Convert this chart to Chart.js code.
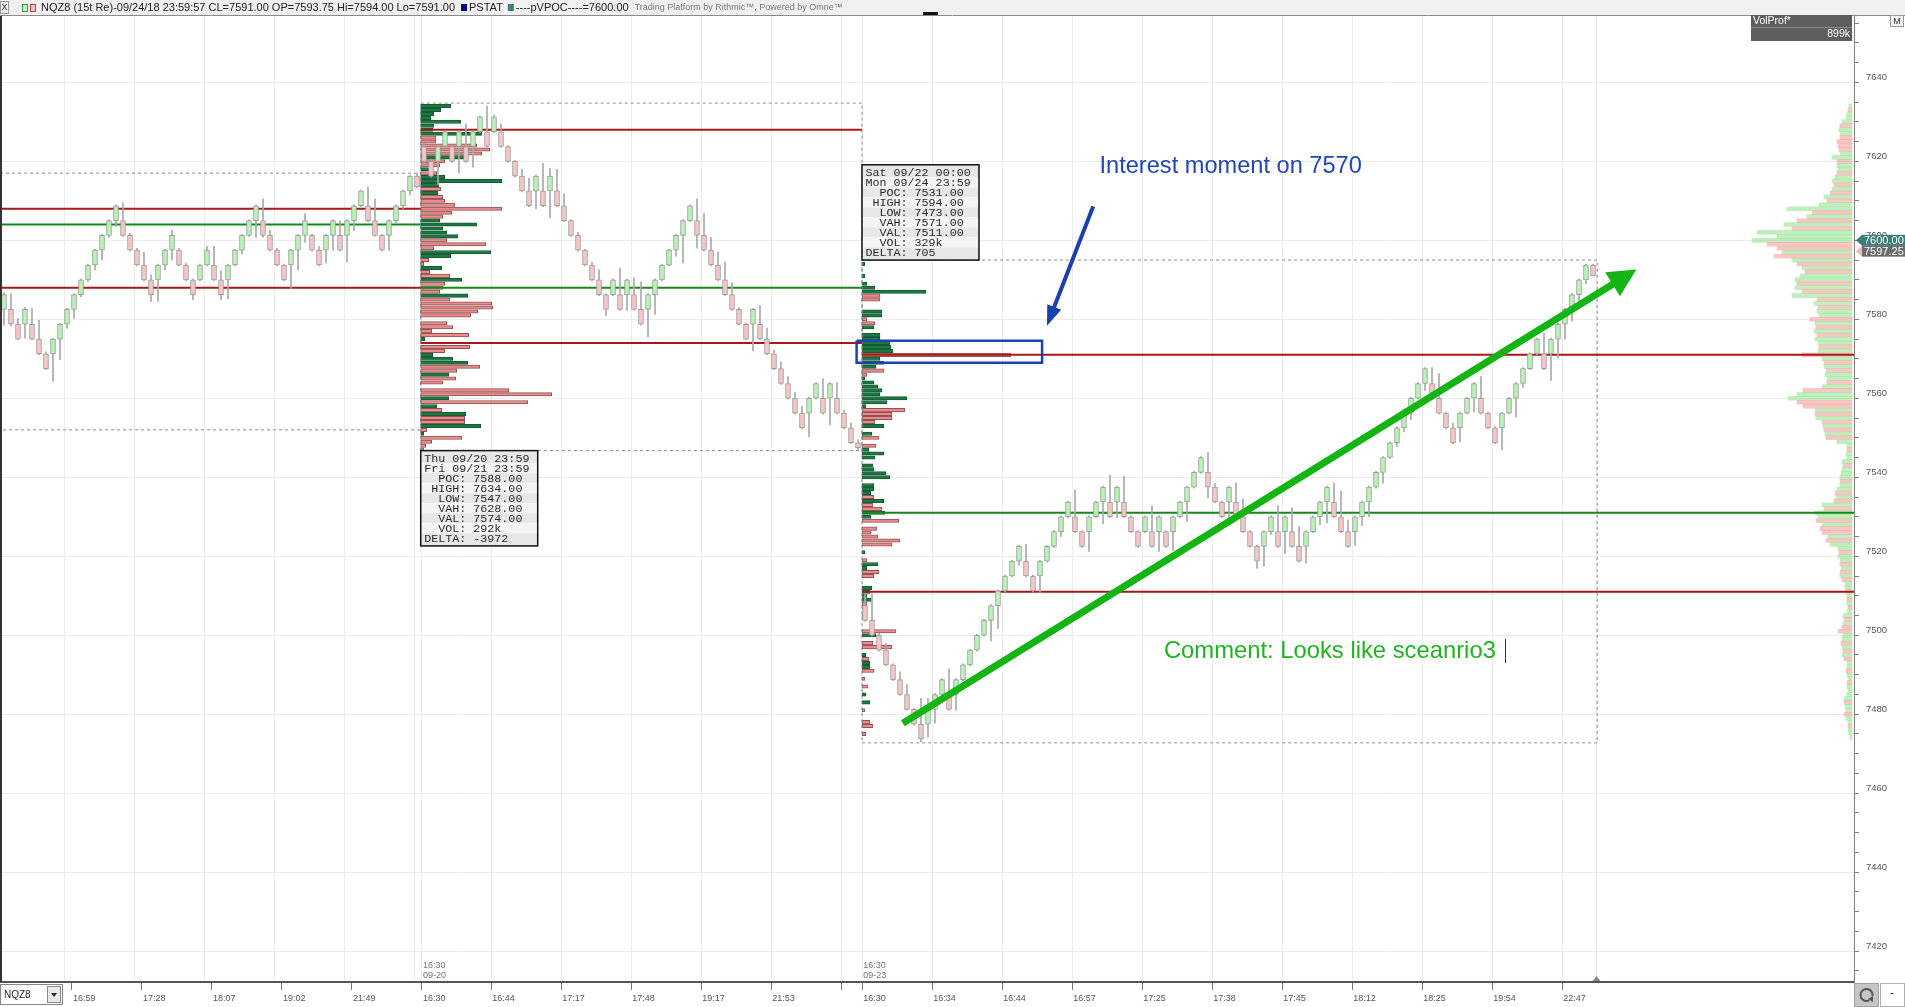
<!DOCTYPE html>
<html>
<head>
<meta charset="utf-8">
<script src="https://cdn.jsdelivr.net/npm/chart.js@4.4.1/dist/chart.umd.min.js"></script>
<style>
  html, body { margin: 0; padding: 0; background: #fff; overflow: hidden; }
  canvas { display: block; }
</style>
</head>
<body>
<canvas id="chart" width="1905" height="1007"></canvas>
<script>
// NQZ8 15 tick renko chart: three sessions, value area lines, session volume profiles

// ---------- candles, one brick per entry (prev session | Thu-Fri | Sun-Mon) ----------
const opens = [
  7582.5, 7582.5, 7578.75, 7578.75, 7578.75, 7575, 7571.25, 7571.25, 7575, 7578.75,
  7582.5, 7586.25, 7590, 7593.75, 7597.5, 7601.25, 7605, 7605, 7601.25, 7597.5,
  7593.75, 7590, 7590, 7593.75, 7597.5, 7597.5, 7593.75, 7590, 7590, 7593.75,
  7593.75, 7590, 7590, 7593.75, 7597.5, 7601.25, 7605, 7605, 7601.25, 7597.5,
  7593.75, 7593.75, 7597.5, 7601.25, 7601.25, 7597.5, 7597.5, 7601.25, 7601.25, 7601.25,
  7605, 7608.75, 7608.75, 7605, 7601.25, 7601.25, 7605, 7608.75, 7612.5, 7616.25,
  // Thu 09/20 - Fri 09/21
  7623.75, 7620, 7620, 7623.75, 7623.75, 7623.75, 7623.75, 7623.75, 7627.5, 7627.5,
  7627.5, 7627.5, 7623.75, 7620, 7616.25, 7612.5, 7612.5, 7612.5, 7612.5, 7612.5,
  7608.75, 7605, 7601.25, 7597.5, 7593.75, 7590, 7586.25, 7586.25, 7586.25, 7586.25,
  7586.25, 7582.5, 7582.5, 7586.25, 7590, 7593.75, 7597.5, 7601.25, 7605, 7605,
  7601.25, 7597.5, 7593.75, 7590, 7586.25, 7582.5, 7578.75, 7578.75, 7578.75, 7575,
  7571.25, 7567.5, 7563.75, 7560, 7556.25, 7556.25, 7560, 7560, 7560, 7560,
  7556.25, 7552.5, 7548.75,
  // Sun 09/23 - Mon 09/24
  7507.5, 7503.75, 7500, 7496.25, 7492.5, 7488.75, 7485, 7481.25, 7477.5, 7477.5,
  7481.25, 7485, 7485, 7485, 7488.75, 7492.5, 7496.25, 7500, 7503.75, 7507.5,
  7511.25, 7515, 7518.75, 7518.75, 7515, 7515, 7518.75, 7522.5, 7526.25, 7530,
  7530, 7526.25, 7526.25, 7530, 7533.75, 7533.75, 7533.75, 7533.75, 7530, 7526.25,
  7526.25, 7526.25, 7526.25, 7526.25, 7526.25, 7530, 7533.75, 7537.5, 7541.25, 7541.25,
  7537.5, 7533.75, 7533.75, 7533.75, 7530, 7526.25, 7522.5, 7522.5, 7526.25, 7526.25,
  7526.25, 7526.25, 7522.5, 7522.5, 7526.25, 7530, 7533.75, 7533.75, 7530, 7526.25,
  7526.25, 7530, 7533.75, 7537.5, 7541.25, 7545, 7548.75, 7552.5, 7556.25, 7560,
  7563.75, 7563.75, 7560, 7556.25, 7552.5, 7552.5, 7556.25, 7560, 7560, 7556.25,
  7552.5, 7552.5, 7556.25, 7560, 7563.75, 7567.5, 7571.25, 7571.25, 7571.25, 7575,
  7578.75, 7582.5, 7586.25, 7590, 7593.75
];
const closes = [
  7586.25, 7578.75, 7575, 7582.5, 7575, 7571.25, 7567.5, 7575, 7578.75, 7582.5,
  7586.25, 7590, 7593.75, 7597.5, 7601.25, 7605, 7608.75, 7601.25, 7597.5, 7593.75,
  7590, 7586.25, 7593.75, 7597.5, 7601.25, 7593.75, 7590, 7586.25, 7593.75, 7597.5,
  7590, 7586.25, 7593.75, 7597.5, 7601.25, 7605, 7608.75, 7601.25, 7597.5, 7593.75,
  7590, 7597.5, 7601.25, 7605, 7597.5, 7593.75, 7601.25, 7605, 7597.5, 7605,
  7608.75, 7612.5, 7605, 7601.25, 7597.5, 7605, 7608.75, 7612.5, 7616.25, 7613.5,
  7620, 7616.25, 7623.75, 7627.5, 7620, 7627.5, 7620, 7627.5, 7631.25, 7623.75,
  7631.25, 7623.75, 7620, 7616.25, 7612.5, 7608.75, 7616.25, 7608.75, 7616.25, 7608.75,
  7605, 7601.25, 7597.5, 7593.75, 7590, 7586.25, 7582.5, 7590, 7582.5, 7590,
  7582.5, 7578.75, 7586.25, 7590, 7593.75, 7597.5, 7601.25, 7605, 7608.75, 7601.25,
  7597.5, 7593.75, 7590, 7586.25, 7582.5, 7578.75, 7575, 7582.5, 7575, 7571.25,
  7567.5, 7563.75, 7560, 7556.25, 7552.5, 7560, 7563.75, 7556.25, 7563.75, 7556.25,
  7552.5, 7548.75, 7547.5,
  7503.75, 7500, 7496.25, 7492.5, 7488.75, 7485, 7481.25, 7477.5, 7473.75, 7481.25,
  7485, 7488.75, 7481.25, 7488.75, 7492.5, 7496.25, 7500, 7503.75, 7507.5, 7511.25,
  7515, 7518.75, 7522.5, 7515, 7511.25, 7518.75, 7522.5, 7526.25, 7530, 7533.75,
  7526.25, 7522.5, 7530, 7533.75, 7537.5, 7530, 7537.5, 7530, 7526.25, 7522.5,
  7530, 7522.5, 7530, 7522.5, 7530, 7533.75, 7537.5, 7541.25, 7545, 7537.5,
  7533.75, 7530, 7537.5, 7530, 7526.25, 7522.5, 7518.75, 7526.25, 7530, 7522.5,
  7530, 7522.5, 7518.75, 7526.25, 7530, 7533.75, 7537.5, 7530, 7526.25, 7522.5,
  7530, 7533.75, 7537.5, 7541.25, 7545, 7548.75, 7552.5, 7556.25, 7560, 7563.75,
  7567.5, 7560, 7556.25, 7552.5, 7548.75, 7556.25, 7560, 7563.75, 7556.25, 7552.5,
  7548.75, 7556.25, 7560, 7563.75, 7567.5, 7571.25, 7575, 7567.5, 7575, 7578.75,
  7582.5, 7586.25, 7590, 7593.75, 7591
];
const highs = [
  7586.75, 7586.5, 7580.25, 7583, 7582.75, 7579.75, 7571.75, 7575.25, 7579, 7582.75,
  7586.5, 7590.25, 7594, 7597.75, 7601.5, 7605.25, 7609, 7609.5, 7601.75, 7598,
  7597, 7591.25, 7594, 7597.75, 7602.5, 7598, 7594.25, 7590.25, 7594, 7598.5,
  7598.5, 7592.25, 7594, 7597.75, 7601.5, 7605.25, 7609, 7610.5, 7602.5, 7598,
  7594, 7597.75, 7601.5, 7606.75, 7601.5, 7598.5, 7601.5, 7605.25, 7605, 7605.25,
  7609, 7612.75, 7613.5, 7610.5, 7601.5, 7605.25, 7609, 7612.75, 7616.5, 7617,
  7624.5, 7620.5, 7624, 7627.75, 7624, 7627.75, 7629.5, 7627.75, 7631.5, 7634,
  7631.75, 7629.5, 7624, 7620.25, 7618, 7615.75, 7616.5, 7619.5, 7618.25, 7618,
  7611.75, 7605.25, 7602, 7597.75, 7594.5, 7592.5, 7586.5, 7590.25, 7593, 7590.25,
  7590.5, 7589.5, 7586.5, 7590.25, 7594, 7597.75, 7601.5, 7605.25, 7609, 7610.5,
  7606.75, 7600.75, 7597, 7594.5, 7589.25, 7583, 7579, 7582.75, 7583.5, 7577.75,
  7572.25, 7569.25, 7565.5, 7561.5, 7558, 7560.25, 7564, 7565, 7564, 7564,
  7557, 7553.75, 7549.5,
  7510.5, 7510.5, 7500.5, 7498, 7492.75, 7490.75, 7487.5, 7481.5, 7484, 7484,
  7485.25, 7489, 7491.5, 7489, 7492.75, 7496.5, 7500.25, 7504, 7507.75, 7511.5,
  7515.25, 7519, 7522.75, 7523, 7515.25, 7519, 7522.75, 7526.5, 7530.25, 7534,
  7536.75, 7526.5, 7530.25, 7534, 7537.75, 7540.5, 7537.75, 7540.25, 7530.25, 7526.5,
  7530.25, 7532.75, 7530.25, 7526.5, 7530.25, 7534, 7537.75, 7541.5, 7545.25, 7546.25,
  7538.5, 7534, 7537.75, 7538.5, 7534.5, 7526.5, 7522.75, 7526.5, 7530.25, 7532.75,
  7530.25, 7532.25, 7527.5, 7526.5, 7530.25, 7534, 7537.75, 7538.5, 7536.5, 7529.25,
  7530.25, 7534, 7537.75, 7541.5, 7545.25, 7549, 7552.75, 7556.5, 7560.25, 7564,
  7567.75, 7567.75, 7566.25, 7556.5, 7553.75, 7556.5, 7560.25, 7564, 7565.5, 7556.5,
  7552.75, 7556.5, 7560.25, 7564, 7567.75, 7571.5, 7575.25, 7576.5, 7575.25, 7579,
  7582.75, 7586.5, 7590.25, 7594, 7594
];
const lows = [
  7578.5, 7578.25, 7574.75, 7575.25, 7574.75, 7571, 7567.25, 7564.25, 7569.75, 7577.75,
  7580.25, 7585.75, 7589.5, 7592.5, 7595, 7600.75, 7603.5, 7601, 7597.25, 7593.5,
  7589.75, 7584.5, 7584.5, 7592.5, 7595, 7593.5, 7589.75, 7585, 7589.75, 7593.5,
  7589.75, 7585, 7585.25, 7593.5, 7596.5, 7601, 7600.75, 7600.75, 7597.25, 7593.5,
  7589.75, 7587.75, 7592.5, 7599.5, 7597.25, 7593.5, 7594.25, 7597.5, 7597.25, 7594.5,
  7602.5, 7608.5, 7604.75, 7601, 7597.25, 7597.5, 7604.5, 7608, 7611.5, 7613.25,
  7619.75, 7616, 7614, 7623.5, 7619.75, 7617, 7619.75, 7618.5, 7627.25, 7623.5,
  7627.25, 7623.5, 7619.75, 7616, 7612.25, 7608.5, 7608, 7608.5, 7605.75, 7608.5,
  7604.75, 7601, 7597.25, 7593.5, 7589.75, 7586, 7581, 7586, 7582.25, 7582.25,
  7582.25, 7578.5, 7575.5, 7581.25, 7589.75, 7593.5, 7596, 7594.25, 7604.75, 7598,
  7597.25, 7593.5, 7589.75, 7586, 7582.25, 7578.5, 7574.75, 7572, 7574.75, 7571,
  7567.25, 7563.5, 7559.75, 7556, 7552.25, 7550.25, 7559.75, 7556, 7553.25, 7556,
  7552.25, 7548.5, 7547,
  7503.5, 7499.75, 7496, 7492.25, 7488.5, 7484.75, 7481, 7477.25, 7473, 7474.25,
  7477.75, 7484.75, 7481, 7481, 7488.5, 7492.25, 7496, 7499.75, 7498.5, 7501.75,
  7511, 7514.75, 7517.75, 7514.75, 7511, 7510.75, 7518.5, 7522.25, 7525, 7529.75,
  7526, 7522.25, 7521.25, 7529.75, 7528.25, 7529.75, 7529.75, 7529.75, 7526, 7522.25,
  7526, 7522.25, 7521.25, 7522.25, 7521.5, 7529.75, 7528.75, 7537.25, 7541, 7534.75,
  7533.5, 7529.75, 7529.75, 7529.75, 7526, 7522.25, 7517, 7517.5, 7525.5, 7522.25,
  7520.75, 7522.25, 7518.5, 7518.25, 7526, 7528, 7528.5, 7529.75, 7526, 7522.25,
  7522.75, 7527.75, 7530, 7537.25, 7538.5, 7544.75, 7547.75, 7551.5, 7554.5, 7559.75,
  7562, 7559.75, 7556, 7552.25, 7548.5, 7549, 7556, 7556.5, 7556, 7552.25,
  7548.5, 7547, 7556, 7555.25, 7562.75, 7567.25, 7571, 7567.25, 7564.5, 7570.25,
  7575, 7579.5, 7584, 7589, 7591
];

// ---------- session volume profiles, one value per point from the top level down (+ buy / - sell) ----------
const midProfileTop = 7634;
const midProfile = [
  30, 20, 13, 10, 40, 13, 12, 61, -15, -15,
  -56, -69, -61, 44, -24, -19, 8, -16, 24, 81,
  18, -20, 17, -22, -24, -34, -81, -31, -22, 19,
  56, 22, 26, 37, -26, -65, -13, 70, 30, -8,
  -3, 21, -9, -29, 41, -24, -22, -19, 47, -29,
  -71, -72, -57, -50, 0, -26, -32, -11, -48, 4,
  0, -49, -24, 12, 32, 47, -59, -36, 28, -35,
  -22, 0, -88, -131, 28, -107, 16, -21, 45, -44,
  -44, 60, -6, 3, -41, -11, -5, -3
];
const lastProfileTop = 7594;
const lastProfile = [
  3, 0, 0, 3, 0, 5, 13, 64, -18, -18,
  0, 0, 20, 20, -5, -13, 12, 0, 18, 18,
  28, 29, 31, -149, 18, 22, 14, -22, -5, 3,
  12, 16, 20, 18, 45, 25, 4, -43, -30, -30,
  -13, 22, 0, 10, -17, 0, -14, 7, 22, 13,
  0, 11, 12, 24, 28, 0, 12, 12, 9, -12,
  22, -11, -20, 23, 9, -37, 0, -15, -9, -16,
  -38, -30, 0, 3, 0, -5, 16, 5, -17, -12,
  0, 0, 10, 8, 5, 9, -5, -4, 0, -4,
  0, 0, 0, -34, 14, 0, -11, -30, 0, 4,
  -7, 8, 8, -12, 0, -3, 0, -6, 0, 4,
  0, 8, 0, -3, 0, 0, -8, -11, 0, -4,
  0, 0
];
// composite VolProf* along the price axis
const compProfileTop = 7634;
const compProfile = [
  3, -4, 5, 6, 10, -12, 13, 12, -12, -15,
  -14, -13, 12, 20, -15, 15, 14, -15, 17, 20,
  -18, 20, -22, 28, -25, 33, 65, -40, 45, -55,
  68, -60, 95, 75, 100, -85, -75, 70, -78, 60,
  -55, 50, -47, 52, 57, -55, 57, -50, 60, -35,
  38, -34, 35, 33, -42, 37, -36, 38, -35, 37,
  34, -33, 34, -50, 30, -28, 28, -26, 27, 25,
  -25, 30, -49, 55, 64, -55, -49, 37, -37, 36,
  -30, 29, -28, 27, -26, 15, 5, -5, 6, 5,
  10, -9, 10, 11, 12, -12, 12, 15, -17, 16,
  -18, 30, -28, 37, 34, -36, 30, -32, -30, 24,
  -26, 22, 14, -13, 14, 12, -12, 11, -12, 12,
  -10, 7, 7, -6, 5, -5, 5, -4, 5, 9,
  -8, 9, -10, -14, 9, 10, -11, 10, -9, 10,
  -8, 5, 5, -6, 5, 4, -5, 5, 4, 5,
  8, -8, 7, 6, -8, 6, 4, -4, 4, 3,
  2
];

// ---------- sessions (prev, Thu-Fri, Sun-Mon) on the bar index axis ----------
const sessionStart = [-0.57, 59.53, 122.57];
const sessionBoxEnd = [59.53, 122.57, 227.6];
const sessionLineEnd = [59.53, 122.57, 264.29];
const boxHigh = [7617, 7634.75, 7595];
const boxLow = [7552, 7546.75, 7472.75];
const vahLevels = [7608, 7628, 7571];
const pocLevels = [7604, 7588, 7531];
const valLevels = [7588, 7574, 7511];

const midStats = ['Thu 09/20 23:59', 'Fri 09/21 23:59', '  POC: 7588.00', ' HIGH: 7634.00', '  LOW: 7547.00',
  '  VAH: 7628.00', '  VAL: 7574.00', '  VOL: 292k', 'DELTA: -3972'];
const lastStats = ['Sat 09/22 00:00', 'Mon 09/24 23:59', '  POC: 7531.00', ' HIGH: 7594.00', '  LOW: 7473.00',
  '  VAH: 7571.00', '  VAL: 7511.00', '  VOL: 329k', 'DELTA: 705'];

// ---------- axes ----------
const tickPos = [9.7, 19.7, 29.7, 39.7, 49.7, 59.7, 69.6, 79.6, 89.6, 99.6, 109.6, 119.6,
  122.6, 132.6, 142.6, 152.6, 162.6, 172.6, 182.6, 192.6, 202.6, 212.6, 222.6];
const tickLabels = ['16:59', '17:28', '18:07', '19:02', '21:49', '16:30', '16:44', '17:17', '17:48', '19:17', '21:53', '',
  '16:30', '16:34', '16:44', '16:57', '17:25', '17:38', '17:45', '18:12', '18:25', '19:54', '22:47'];
const gridPos = [8.6, 18.6, 28.6, 38.6, 48.6, 58.6, 59.6, 69.6, 79.6, 89.6, 99.6, 109.6, 119.6,
  122.6, 132.6, 142.6, 152.6, 162.6, 172.6, 182.6, 192.6, 202.6, 212.6, 222.6, 227.5];
const priceLabels = [7420, 7440, 7460, 7480, 7500, 7520, 7540, 7560, 7580, 7600, 7620, 7640];
const sessionMarks = [[59.7, '16:30', '09-20'], [122.6, '16:30', '09-23']];

// ---------- drawings ----------
const noteRect = { from: 121.8, to: 148.3, low: 7569, high: 7574.6 };
const blueArrow = { from: [155.6, 7608.6], to: [149.0, 7578.4] };
const greenArrow = { from: [128.4, 7477.7], to: [233.2, 7592.6] };
const interestNote = { at: [156.5, 7618.7], text: 'Interest moment on 7570' };
const commentNote = { at: [165.7, 7496.0], text: 'Comment: Looks like sceanrio3' };

const SANS = "'Liberation Sans', Arial, sans-serif";
const MONO = "'Liberation Mono', 'Courier New', monospace";
const PX_PER_BAR = 7;          // profile length units per bar slot
const RED = '#a81818', GREEN = '#15891a';

Chart.defaults.font.family = SANS;

function profileData(values, top, start, dir) {
  const out = [];
  values.forEach((v, i) => {
    if (!v) return;
    const len = Math.abs(v) / PX_PER_BAR;
    out.push({ y: top - i, x: dir > 0 ? [start, start + len] : [start - len, start], v });
  });
  return out;
}

function hLine(p, a, b, color) {
  return { type: 'line', data: [{ x: a, y: p }, { x: b, y: p }], borderColor: color, borderWidth: 2,
    pointRadius: 0, tension: 0, order: 6, xAxisID: 'x', yAxisID: 'y' };
}

function rectLine(a, b, lo, hi, color, width, dash, order) {
  return { type: 'line', data: [{ x: a, y: hi }, { x: b, y: hi }, { x: b, y: lo }, { x: a, y: lo }, { x: a, y: hi }],
    borderColor: color, borderWidth: width, borderDash: dash, pointRadius: 0, tension: 0, order,
    xAxisID: 'x', yAxisID: 'y' };
}

const idx = opens.map((_, i) => i);
const datasets = [];

// composite profile at the right edge
datasets.push({
  type: 'bar', indexAxis: 'y', grouped: false, order: 9, xAxisID: 'x', yAxisID: 'y',
  data: profileData(compProfile, compProfileTop, 264.0, -1),
  barThickness: 4, borderWidth: 0,
  backgroundColor: c => c.raw && c.raw.v > 0 ? 'rgba(150,228,145,0.6)' : 'rgba(243,160,160,0.6)'
});
// session profiles
[[midProfile, midProfileTop, sessionStart[1]], [lastProfile, lastProfileTop, sessionStart[2]]].forEach(([vals, top, start]) => {
  datasets.push({
    type: 'bar', indexAxis: 'y', grouped: false, order: 8, xAxisID: 'x', yAxisID: 'y',
    data: profileData(vals, top, start, 1),
    barThickness: 3.4, borderWidth: 1, borderSkipped: false,
    backgroundColor: c => c.raw && c.raw.v > 0 ? '#1f7844' : '#f08a8a',
    borderColor: c => c.raw && c.raw.v > 0 ? '#155c32' : '#8c5555'
  });
});
// session boxes and value area lines
for (let s = 0; s < 3; s++) {
  datasets.push(rectLine(sessionStart[s], sessionBoxEnd[s], boxLow[s], boxHigh[s], '#8a8a8a', 1, [3, 3], 7));
  datasets.push(hLine(vahLevels[s], sessionStart[s], sessionLineEnd[s], RED));
  datasets.push(hLine(pocLevels[s], sessionStart[s], sessionLineEnd[s], GREEN));
  datasets.push(hLine(valLevels[s], sessionStart[s], sessionLineEnd[s], RED));
}
// wicks
datasets.push({
  type: 'bar', grouped: false, order: 3, xAxisID: 'x', yAxisID: 'y',
  data: idx.map(i => ({ x: i, y: [lows[i], highs[i]] })),
  barThickness: 1, backgroundColor: '#a9a9a9', borderWidth: 0
});
// bodies
datasets.push({
  type: 'bar', grouped: false, order: 2, xAxisID: 'x', yAxisID: 'y',
  data: idx.map(i => ({ x: i, y: [opens[i], closes[i]] })),
  barThickness: 5, borderWidth: 1, borderSkipped: false, borderColor: '#9d9d9d',
  backgroundColor: idx.map(i => closes[i] >= opens[i] ? '#b8f2b4' : '#f7c5c5')
});
// highlighted area
datasets.push(rectLine(noteRect.from, noteRect.to, noteRect.low, noteRect.high, '#1b44b5', 2.5, [], 1));

function drawArrow(ctx, chart, a, color, width, headLen, headW) {
  const x = chart.scales.x, y = chart.scales.y;
  const x0 = x.getPixelForValue(a.from[0]), y0 = y.getPixelForValue(a.from[1]);
  const x1 = x.getPixelForValue(a.to[0]), y1 = y.getPixelForValue(a.to[1]);
  const dx = x1 - x0, dy = y1 - y0, len = Math.hypot(dx, dy), ux = dx / len, uy = dy / len;
  const bx = x1 - ux * headLen, by = y1 - uy * headLen;
  ctx.save();
  ctx.strokeStyle = color; ctx.lineWidth = width; ctx.lineCap = 'butt';
  ctx.beginPath(); ctx.moveTo(x0, y0); ctx.lineTo(bx + ux * 2, by + uy * 2); ctx.stroke();
  ctx.fillStyle = color;
  ctx.beginPath(); ctx.moveTo(x1, y1);
  ctx.lineTo(bx - uy * headW / 2, by + ux * headW / 2);
  ctx.lineTo(bx + uy * headW / 2, by - ux * headW / 2);
  ctx.closePath(); ctx.fill();
  ctx.restore();
}

function statsBox(ctx, left, top, lines) {
  const rowH = 10, w = 117, h = 15.3 + rowH * (lines.length - 1);
  ctx.save();
  for (let i = 0; i < lines.length; i++) {
    const y0 = i === 0 ? top : top + 7.6 + rowH * i - rowH / 2;
    const y1 = i === lines.length - 1 ? top + h : top + 7.6 + rowH * i + rowH / 2;
    ctx.fillStyle = i % 2 === 0 ? '#e7e7e7' : '#f4f4f4';
    ctx.fillRect(left, y0, w, y1 - y0);
  }
  ctx.strokeStyle = '#111'; ctx.lineWidth = 1.5;
  ctx.strokeRect(left, top, w, h);
  ctx.fillStyle = '#2a2a2a'; ctx.font = '11.7px ' + MONO;
  ctx.textAlign = 'left'; ctx.textBaseline = 'middle';
  lines.forEach((t, i) => ctx.fillText(t, left + 3.5, top + 8 + rowH * i));
  ctx.restore();
}

const overlay = {
  id: 'overlay',
  beforeDraw(chart) {
    const c = chart.ctx;
    c.save(); c.fillStyle = '#fff'; c.fillRect(0, 0, chart.width, chart.height); c.restore();
  },
  afterDatasetsDraw(chart) {
    const ctx = chart.ctx, x = chart.scales.x, y = chart.scales.y, area = chart.chartArea;

    // session start stamps above the time axis
    ctx.save();
    ctx.font = '9px ' + SANS; ctx.fillStyle = '#777'; ctx.textBaseline = 'middle';
    sessionMarks.forEach(([k, t, d]) => {
      const px = x.getPixelForValue(k) + 1;
      ctx.fillText(t, px, area.bottom - 16);
      ctx.fillText(d, px, area.bottom - 6);
    });
    ctx.restore();

    statsBox(ctx, x.getPixelForValue(sessionStart[1]), y.getPixelForValue(boxLow[1]), midStats);
    const h2 = 15.3 + 10 * (lastStats.length - 1);
    statsBox(ctx, x.getPixelForValue(sessionStart[2]), y.getPixelForValue(boxHigh[2]) - h2, lastStats);

    drawArrow(ctx, chart, greenArrow, '#14b414', 7, 28, 28);
    drawArrow(ctx, chart, blueArrow, '#1a3fae', 4, 20, 15);

    ctx.save();
    ctx.textBaseline = 'middle'; ctx.textAlign = 'left';
    ctx.font = '23.6px ' + SANS;
    ctx.fillStyle = '#2146b3';
    ctx.fillText(interestNote.text, x.getPixelForValue(interestNote.at[0]), y.getPixelForValue(interestNote.at[1]));
    ctx.font = '23.8px ' + SANS;
    ctx.fillStyle = '#1fb41f';
    const cx = x.getPixelForValue(commentNote.at[0]), cy = y.getPixelForValue(commentNote.at[1]);
    ctx.fillText(commentNote.text, cx, cy);
    const tw = ctx.measureText(commentNote.text).width;
    ctx.strokeStyle = '#333'; ctx.lineWidth = 1;
    ctx.beginPath(); ctx.moveTo(Math.round(cx + tw + 9) + 0.5, cy - 12); ctx.lineTo(Math.round(cx + tw + 9) + 0.5, cy + 12); ctx.stroke();
    ctx.restore();
  },
  afterDraw(chart) {
    const ctx = chart.ctx, x = chart.scales.x, y = chart.scales.y, area = chart.chartArea;
    ctx.save();
    // plot frame left edge
    ctx.fillStyle = '#333'; ctx.fillRect(0, area.top, 2, area.bottom - area.top);

    // title bar
    ctx.fillStyle = '#f0f0f0'; ctx.fillRect(0, 0, chart.width, 15);
    ctx.strokeStyle = '#8a8a8a'; ctx.lineWidth = 1;
    ctx.beginPath(); ctx.moveTo(0, 15.5); ctx.lineTo(chart.width, 15.5); ctx.stroke();
    ctx.strokeStyle = '#999'; ctx.strokeRect(0.5, 1.5, 8, 12);
    ctx.fillStyle = '#333'; ctx.font = '9px ' + SANS; ctx.textBaseline = 'middle'; ctx.textAlign = 'center';
    ctx.fillText('X', 4.5, 8);
    ctx.fillStyle = '#c9f2c2'; ctx.fillRect(22, 4, 6, 8); ctx.strokeStyle = '#3c9a3c'; ctx.strokeRect(22.5, 4.5, 5, 7);
    ctx.fillStyle = '#f4c4c4'; ctx.fillRect(30, 4, 6, 8); ctx.strokeStyle = '#a84848'; ctx.strokeRect(30.5, 4.5, 5, 7);
    ctx.textAlign = 'left'; ctx.font = '11px ' + SANS; ctx.fillStyle = '#222';
    let tx = 41;
    const title = 'NQZ8 (15t Re)-09/24/18 23:59:57 CL=7591.00 OP=7593.75 Hi=7594.00 Lo=7591.00';
    ctx.fillText(title, tx, 8); tx += ctx.measureText(title).width + 6;
    ctx.fillStyle = '#000080'; ctx.fillRect(tx, 4, 6, 7); tx += 8;
    ctx.fillStyle = '#222'; ctx.fillText('PSTAT', tx, 8); tx += ctx.measureText('PSTAT').width + 5;
    ctx.fillStyle = '#3f7f7a'; ctx.fillRect(tx, 4, 6, 7); tx += 8;
    ctx.fillStyle = '#222'; ctx.fillText('----pVPOC----=7600.00', tx, 8); tx += ctx.measureText('----pVPOC----=7600.00').width + 6;
    ctx.fillStyle = '#777'; ctx.font = '9px ' + SANS;
    ctx.fillText('Trading Platform by Rithmic\u2122, Powered by Omne\u2122', tx, 8);
    ctx.fillStyle = '#111'; ctx.fillRect(923, 12, 15, 3);

    // VolProf* tag and M button
    ctx.fillStyle = '#5e5e5e'; ctx.fillRect(1751, 15, 101, 26);
    ctx.strokeStyle = '#8d8d8d'; ctx.beginPath(); ctx.moveTo(1751, 27.5); ctx.lineTo(1852, 27.5); ctx.stroke();
    ctx.fillStyle = '#fff'; ctx.font = '10.5px ' + SANS;
    ctx.fillText('VolProf*', 1753, 21.5);
    ctx.textAlign = 'right'; ctx.fillText('899k', 1850, 34.5);
    ctx.textAlign = 'center';
    ctx.fillStyle = '#f3f3f3'; ctx.fillRect(1890, 15, 13, 11);
    ctx.strokeStyle = '#9a9a9a'; ctx.strokeRect(1890.5, 15.5, 13, 11);
    ctx.fillStyle = '#333'; ctx.font = '9px ' + SANS; ctx.fillText('M', 1897, 21.5);

    // last price tags
    [[7600, '#3d7c78', '#3d7c78', '7600.00'], [7597.25, '#6c6c6c', '#f1b8b8', '7597.25']].forEach(([p, fill, tip, label]) => {
      const py = y.getPixelForValue(p);
      ctx.fillStyle = tip;
      ctx.beginPath(); ctx.moveTo(1856, py); ctx.lineTo(1862, py - 5.5); ctx.lineTo(1862, py + 5.5); ctx.closePath(); ctx.fill();
      ctx.fillStyle = fill; ctx.fillRect(1862, py - 5.5, 43, 11);
      ctx.fillStyle = '#fff'; ctx.font = '11px ' + SANS; ctx.textAlign = 'left';
      ctx.fillText(label, 1864, py + 0.5);
    });

    // current bar marker
    const mx = x.getPixelForValue(227.5);
    ctx.fillStyle = '#888';
    ctx.beginPath(); ctx.moveTo(mx - 4, area.bottom - 1); ctx.lineTo(mx + 4, area.bottom - 1); ctx.lineTo(mx, area.bottom - 6); ctx.closePath(); ctx.fill();

    // symbol selector
    ctx.fillStyle = '#fff'; ctx.fillRect(0, 984, 63, 21);
    ctx.strokeStyle = '#888'; ctx.strokeRect(0.5, 984.5, 62, 20);
    ctx.fillStyle = '#222'; ctx.font = '10px ' + SANS; ctx.textAlign = 'left';
    ctx.fillText('NQZ8', 4, 995);
    ctx.fillStyle = '#e9e9e9'; ctx.fillRect(47, 986, 14, 17);
    ctx.strokeStyle = '#8a8a8a'; ctx.strokeRect(47.5, 986.5, 13, 16);
    ctx.fillStyle = '#222';
    ctx.beginPath(); ctx.moveTo(51, 993); ctx.lineTo(57, 993); ctx.lineTo(54, 997); ctx.closePath(); ctx.fill();

    // refresh and minus buttons
    ctx.fillStyle = '#c6c6c6'; ctx.fillRect(1854, 983, 25, 24);
    ctx.strokeStyle = '#a0a0a0'; ctx.strokeRect(1854.5, 983.5, 24, 23);
    ctx.strokeStyle = '#555'; ctx.lineWidth = 2;
    ctx.beginPath(); ctx.arc(1866.5, 995, 6, 0.35 * Math.PI, 2.05 * Math.PI); ctx.stroke();
    ctx.fillStyle = '#555';
    ctx.beginPath(); ctx.moveTo(1868, 999); ctx.lineTo(1873, 1002); ctx.lineTo(1873, 996); ctx.closePath(); ctx.fill();
    ctx.lineWidth = 1;
    ctx.fillStyle = '#fff'; ctx.fillRect(1880, 983, 25, 24);
    ctx.strokeStyle = '#b0b0b0'; ctx.strokeRect(1880.5, 983.5, 24, 23);
    ctx.fillStyle = '#222'; ctx.textAlign = 'center'; ctx.font = '12px ' + SANS;
    ctx.fillText('-', 1892, 994);
    ctx.restore();
  }
};

new Chart(document.getElementById('chart'), {
  type: 'bar',
  data: { datasets },
  options: {
    responsive: false,
    animation: false,
    devicePixelRatio: 1,
    events: [],
    layout: { padding: { top: 16, left: 0, right: 0, bottom: 0 } },
    plugins: { legend: { display: false }, tooltip: { enabled: false } },
    elements: { point: { radius: 0 } },
    scales: {
      x: {
        type: 'linear', position: 'bottom', min: -0.571, max: 264.286, offset: false,
        afterBuildTicks: s => { s.ticks = tickPos.map(v => ({ value: v })); },
        afterFit: s => { s.height = 25; },
        ticks: { callback: (v, i) => tickLabels[i], align: 'start', labelOffset: 1, autoSkip: false, maxRotation: 0,
          color: '#555', font: { size: 9, family: SANS }, padding: 3 },
        grid: { offset: false, drawOnChartArea: false, drawTicks: true, tickLength: 8, tickColor: '#777' },
        border: { display: true, color: '#555', width: 2 }
      },
      xg: {
        type: 'linear', position: 'bottom', min: -0.571, max: 264.286, offset: false,
        afterBuildTicks: s => { s.ticks = gridPos.map(v => ({ value: v })); },
        afterFit: s => { s.height = 0; },
        ticks: { display: false },
        grid: { offset: false, color: '#ececec', drawTicks: false, lineWidth: 1 },
        border: { display: false }
      },
      y: {
        type: 'linear', position: 'right', min: 7412.2, max: 7656.8, offset: false, beginAtZero: false,
        afterBuildTicks: s => {
          const t = [];
          for (let p = 7415; p <= 7655; p += 5) t.push({ value: p });
          s.ticks = t;
        },
        afterFit: s => { s.width = 51; },
        ticks: { callback: v => priceLabels.includes(v) ? String(v) : '', autoSkip: false, labelOffset: -5, padding: 7,
          color: '#555', font: { size: 9.5, family: SANS } },
        grid: { offset: false, color: c => (c.tick && priceLabels.includes(c.tick.value)) ? '#ececec' : 'rgba(0,0,0,0)',
          tickColor: '#808080', tickLength: 5, drawTicks: true },
        border: { display: true, color: '#808080', width: 1 }
      }
    }
  },
  plugins: [overlay]
});
</script>
</body>
</html>
